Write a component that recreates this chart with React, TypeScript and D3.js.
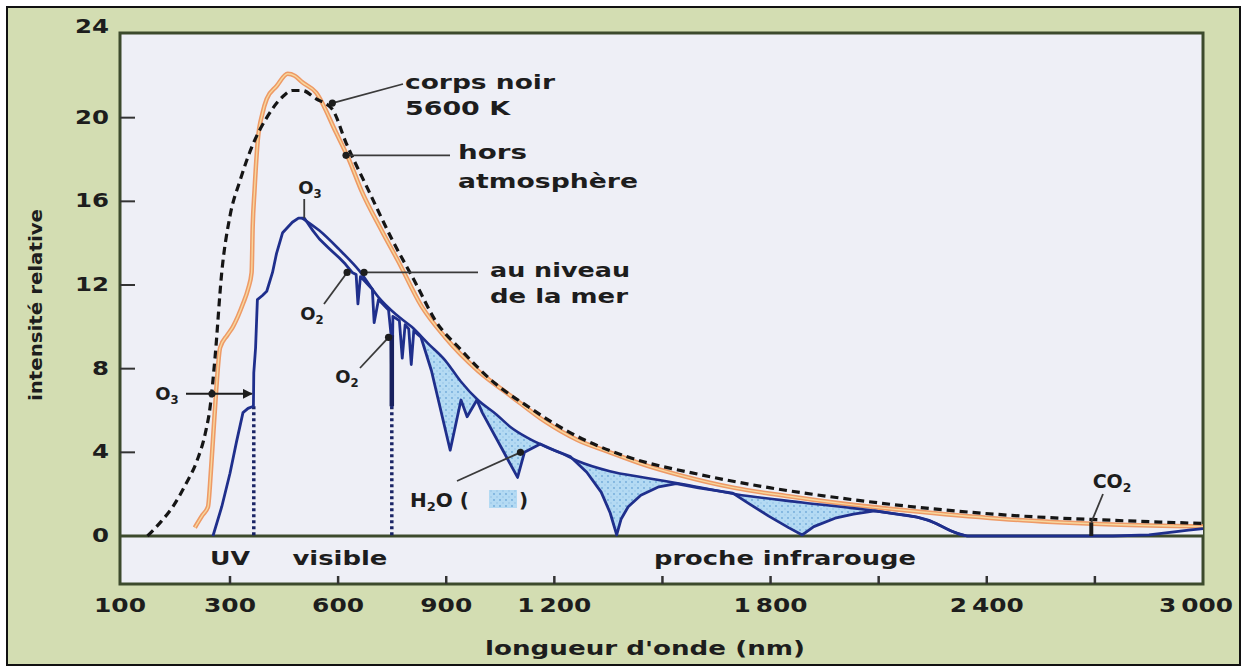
import React from "react";
import * as d3 from "d3";

// wavelength (nm) / relative intensity
const blackBody: [number, number][] = [
  [150, 0], [175, 0.7], [196, 1.4], [220, 2.5], [240, 3.6], [255, 4.9], [264, 6.2],
  [273, 8.6], [285, 12.6], [300, 15.3], [328, 17.0], [363, 18.7], [402, 20.0],
  [446, 21.0], [473, 21.3], [500, 21.3], [539, 20.9], [584, 20.4], [622, 18.8],
  [685, 16.5], [749, 14.2], [815, 12.1], [870, 10.3], [941, 8.9], [1035, 7.3],
  [1126, 6.2], [1227, 5.1], [1283, 4.6], [1400, 3.8], [1600, 2.95], [1800, 2.3],
  [2000, 1.8], [2250, 1.3], [2500, 0.95], [2750, 0.75], [3000, 0.6],
];

const outsideAtmosphere: [number, number][] = [
  [236, 0.4], [250, 1.0], [260, 1.4], [265, 3.0], [269, 4.6], [275, 7.0], [282, 9.0],
  [295, 9.6], [308, 10.0], [322, 10.5], [336, 11.1], [350, 11.8], [360, 12.6],
  [363, 14.8], [368, 16.5], [377, 18.9], [390, 20.2], [402, 20.9], [429, 21.5],
  [460, 22.1], [480, 22.0], [500, 21.7], [539, 21.2], [594, 19.3], [630, 18.0],
  [665, 16.5], [721, 14.6], [768, 13.1], [831, 11.0], [897, 9.5], [988, 7.9],
  [1079, 6.7], [1172, 5.5], [1263, 4.6], [1354, 4.0], [1450, 3.4], [1550, 2.9],
  [1700, 2.3], [1850, 1.9], [2000, 1.55], [2250, 1.1], [2500, 0.75], [2750, 0.55],
  [3000, 0.45],
];

const seaLevel: [number, number][] = [
  [269, 0], [285, 1.4], [300, 3.0], [318, 4.5], [336, 5.9], [350, 6.1], [365, 6.2],
  [366, 7.8], [371, 9.0], [376, 11.3], [390, 11.5], [402, 11.7], [418, 12.6],
  [429, 13.5], [446, 14.5], [473, 15.0], [490, 15.2], [506, 15.2], [530, 14.6],
  [548, 14.2], [575, 13.75], [603, 13.3], [620, 13.0], [639, 12.6], [650, 12.5],
  [655, 11.1], [662, 12.4], [695, 11.8], [700, 10.2], [712, 11.3], [740, 10.8],
  [747, 9.6], [749, 6.2], [752, 10.5], [770, 10.3], [778, 8.5], [786, 10.1],
  [796, 9.9], [803, 8.2], [810, 9.8], [830, 9.5], [859, 7.9], [911, 4.1], [941, 6.5],
  [958, 5.7], [985, 6.5], [1000, 5.9], [1098, 2.8], [1117, 4.0], [1161, 4.4],
  [1200, 4.1], [1244, 3.8], [1290, 3.05], [1330, 2.1], [1355, 1.1], [1373, 0.05],
  [1385, 0.8], [1405, 1.4], [1440, 1.95], [1490, 2.35], [1538, 2.5], [1600, 2.3],
  [1695, 2.05], [1740, 1.55], [1795, 0.95], [1850, 0.4], [1888, 0.05], [1920, 0.45],
  [1979, 0.85], [2030, 1.05], [2089, 1.2], [2150, 1.05], [2207, 0.9], [2240, 0.75],
  [2270, 0.5], [2300, 0.25], [2325, 0.08], [2345, 0], [2750, 0], [2850, 0.05],
  [2920, 0.2], [2960, 0.28], [3000, 0.35],
];

// sea level curve without the absorption bands (upper edge of the shaded dips)
const seaLevelEnvelope: [number, number][] = [
  [500, 15.2], [548, 14.6], [603, 13.7], [658, 12.7], [713, 11.4], [760, 10.6],
  [804, 10.0], [850, 9.2], [897, 8.4], [940, 7.4], [988, 6.5], [1040, 5.8],
  [1079, 5.2], [1125, 4.7], [1172, 4.3], [1220, 3.95], [1263, 3.6], [1354, 3.1],
  [1448, 2.8], [1566, 2.45], [1704, 2.0], [1888, 1.6], [2089, 1.2], [2150, 1.05],
  [2207, 0.9], [2260, 0.6], [2300, 0.25], [2345, 0],
];

const xTicks = [300, 600, 900, 1200, 1500, 1800, 2100, 2400, 2700];
const xTickLabels = [100, 300, 600, 900, 1200, 1800, 2400, 3000];
const yTicks = [4, 8, 12, 16, 20];
const yTickLabels = [0, 4, 8, 12, 16, 20, 24];
const bands = [
  { label: "UV", nm: 300, w: 40 },
  { label: "visible", nm: 605, w: 95 },
  { label: "proche infrarouge", nm: 1840, w: 262 },
];
const cutoffs = [366, 749]; // dotted drops (O3 / O2)
const o2Drop = [6.2, 9.6];
const co2Band = 2690;

const W = 1242;
const H = 668;
const FONT = "'DejaVu Sans', 'Open Sans', sans-serif";
const INK = "#1d1d1d";
const BLUE = "#1f2f8c";

const x = d3.scaleLinear().domain([100, 300, 3000]).range([120, 230, 1203]);
const y = d3.scaleLinear().domain([0, 24]).range([536, 34]);

const fmt = (n: number) =>
  n >= 1000 ? String(n).replace(/(\d)(\d{3})$/, "$1\u2009$2") : String(n);

const label = { fontFamily: FONT, fontWeight: 700, fill: INK } as const;

// wide, squarish bold text like the original lettering
const T: React.FC<{
  x: number;
  y: number;
  w: number;
  size?: number;
  anchor?: "start" | "middle" | "end";
  children: React.ReactNode;
  transform?: string;
}> = ({ x, y, w, size = 20, anchor = "start", children, transform }) => (
  <text
    x={x}
    y={y}
    textAnchor={anchor}
    fontSize={size}
    textLength={w}
    lengthAdjust="spacingAndGlyphs"
    transform={transform}
    {...label}
  >
    {children}
  </text>
);

const Sub: React.FC<{ base: string; sub: string }> = ({ base, sub }) => (
  <>
    {base}
    <tspan fontSize="0.65em" dy="4">{sub}</tspan>
  </>
);

export default function App() {
  const smooth = d3
    .line<[number, number]>()
    .x((d) => x(d[0]))
    .y((d) => y(d[1]))
    .curve(d3.curveMonotoneX);

  const sharp = d3
    .line<[number, number]>()
    .x((d) => x(d[0]))
    .y((d) => y(d[1]));

  const areaSmooth = d3
    .area<[number, number]>()
    .x((d) => x(d[0]))
    .y0(y(0))
    .y1((d) => y(d[1]))
    .curve(d3.curveMonotoneX);

  const areaSharp = d3
    .area<[number, number]>()
    .x((d) => x(d[0]))
    .y0(y(0))
    .y1((d) => y(d[1]));

  const plotL = x(100);
  const plotR = x(3000);
  const plotT = 33;
  const plotB = 584;
  const bg = "#eeeff6";

  const env = seaLevelEnvelope.filter((d) => d[0] >= 804);

  const dot = (cx: number, cy: number, key: string) => (
    <circle key={key} cx={cx} cy={cy} r={3.6} fill={INK} />
  );

  const p = (nm: number, v: number) => [x(nm), y(v)];
  const [cnX, cnY] = p(584, 20.7);
  const [haX, haY] = p(622, 18.2);
  const [nmX, nmY] = p(672, 12.6);
  const [o3X, o3Y] = p(506, 15.2);
  const [o2aX, o2aY] = p(625, 12.6);
  const [o2bX, o2bY] = p(740, 9.5);
  const [h2oX, h2oY] = p(1106, 4.0);
  const o3ArrowY = y(6.8);

  return (
    <svg
      width={W}
      height={H}
      style={{ position: "absolute", left: 0, top: 0, background: "#fff" }}
    >
      <defs>
        <pattern id="water" width="6" height="6" patternUnits="userSpaceOnUse">
          <rect width="6" height="6" fill="#b4daf3" />
          <circle cx="2" cy="2" r="0.9" fill="#6fa9d8" />
          <circle cx="5" cy="5" r="0.7" fill="#8cbde4" />
        </pattern>
        <marker id="arrow" viewBox="0 0 10 10" refX="9" refY="5" markerWidth="5" markerHeight="5" orient="auto">
          <path d="M0,0 L10,5 L0,10 z" fill={INK} />
        </marker>
      </defs>

      {/* frame */}
      <rect x={7} y={7} width={1233} height={658} fill="#d3ddb2" stroke="#111" strokeWidth={2} />
      <rect x={plotL} y={plotT} width={plotR - plotL} height={plotB - plotT} fill={bg} stroke="#3c4a2c" strokeWidth={3} />

      {/* water absorption fill: under envelope, masked by area under actual curve */}
      <path d={areaSmooth(env) || ""} fill="url(#water)" />
      <path d={areaSharp(seaLevel) || ""} fill={bg} />

      {/* baseline */}
      <line x1={plotL} x2={plotR} y1={y(0)} y2={y(0)} stroke="#3c4a2c" strokeWidth={3} />

      {/* y ticks */}
      {yTicks.map((t) => (
        <line key={"yt" + t} x1={plotL} x2={plotL + 15} y1={y(t)} y2={y(t)} stroke="#333" strokeWidth={2} />
      ))}
      {yTickLabels.map((t) => (
        <T key={"yl" + t} x={109} y={(t === 24 ? 25 : y(t) - 2) + 8} w={t < 10 ? 17 : 34} anchor="end">
          {t}
        </T>
      ))}

      {/* x ticks */}
      {xTicks.map((t) => (
        <line key={"xt" + t} x1={x(t)} x2={x(t)} y1={plotB} y2={plotB - 8} stroke="#333" strokeWidth={2.5} />
      ))}
      {xTickLabels.map((t) => (
        <T key={"xl" + t} x={t === 3000 ? x(t) - 7 : x(t)} y={612} w={t >= 1000 ? 74 : 52} anchor="middle">
          {fmt(t)}
        </T>
      ))}
      {bands.map((b) => (
        <T key={b.label} x={x(b.nm)} y={565} w={b.w} anchor="middle">
          {b.label}
        </T>
      ))}

      {/* axis titles */}
      <T x={645} y={655} w={320} anchor="middle">
        longueur d'onde (nm)
      </T>
      <T x={0} y={0} w={192} size={17} anchor="middle" transform="translate(42,305) rotate(-90)">
        intensité relative
      </T>

      {/* dotted drops */}
      {cutoffs.map((c) => (
        <line key={"c" + c} x1={x(c)} x2={x(c)} y1={y(6.2)} y2={y(0)} stroke="#1a2466" strokeWidth={3.5} strokeDasharray="3 3" />
      ))}

      {/* curves */}
      <path d={smooth(outsideAtmosphere) || ""} fill="none" stroke="#ee9a66" strokeWidth={4.5} />
      <path d={smooth(outsideAtmosphere) || ""} fill="none" stroke="#f7d79e" strokeWidth={1.4} />
      <path d={smooth(seaLevelEnvelope) || ""} fill="none" stroke={BLUE} strokeWidth={2.6} />
      <path d={sharp(seaLevel) || ""} fill="none" stroke={BLUE} strokeWidth={2.8} strokeLinejoin="round" />
      <line x1={x(cutoffs[1])} x2={x(cutoffs[1])} y1={y(o2Drop[0])} y2={y(o2Drop[1])} stroke="#17205e" strokeWidth={4.5} />
      <path d={smooth(blackBody) || ""} fill="none" stroke="#151515" strokeWidth={3.2} strokeDasharray="8 5" />

      {/* CO2 band */}
      <line x1={x(co2Band)} x2={x(co2Band)} y1={y(0)} y2={y(0.65)} stroke={INK} strokeWidth={4} />

      {/* annotations */}
      <g stroke="#3a3a3a" strokeWidth={1.8} fill="none">
        <line x1={cnX} y1={cnY} x2={403} y2={84} />
        <line x1={haX} y1={haY} x2={450} y2={haY} />
        <line x1={nmX} y1={nmY} x2={478} y2={nmY} />
        <line x1={o3X} y1={o3Y} x2={o3X} y2={199} />
        <line x1={o2aX} y1={o2aY} x2={324} y2={304} />
        <line x1={o2bX} y1={o2bY} x2={360} y2={368} />
        <line x1={h2oX} y1={h2oY} x2={457} y2={481} />
        <line x1={x(co2Band)} y1={y(0.65)} x2={1103} y2={494} />
        <line x1={186} y1={o3ArrowY} x2={x(366) - 2} y2={o3ArrowY} markerEnd="url(#arrow)" strokeWidth={2} stroke={INK} />
      </g>
      {dot(cnX, cnY, "d1")}
      {dot(haX, haY, "d2")}
      {dot(nmX, nmY, "d3")}
      {dot(o2aX, o2aY, "d4")}
      {dot(o2bX, o2bY, "d5")}
      {dot(h2oX, h2oY, "d6")}
      {dot(212, o3ArrowY, "d7")}

      <T x={405} y={89} w={150}>corps noir</T>
      <T x={405} y={115} w={105}>5600 K</T>
      <T x={458} y={159} w={69}>hors</T>
      <T x={458} y={188} w={180}>atmosphère</T>
      <T x={490} y={277} w={140}>au niveau</T>
      <T x={490} y={303} w={138}>de la mer</T>

      <text x={310} y={194} textAnchor="middle" fontSize={18} {...label}><Sub base="O" sub="3" /></text>
      <text x={312} y={320} textAnchor="middle" fontSize={18} {...label}><Sub base="O" sub="2" /></text>
      <text x={347} y={383} textAnchor="middle" fontSize={18} {...label}><Sub base="O" sub="2" /></text>
      <text x={167} y={400} textAnchor="middle" fontSize={18} {...label}><Sub base="O" sub="3" /></text>
      <text x={1112} y={488} textAnchor="middle" fontSize={19} {...label}><Sub base="CO" sub="2" /></text>

      <text x={410} y={507} fontSize={20} {...label}>
        <Sub base="H" sub="2" />
        <tspan dy="-4">O (</tspan>
      </text>
      <rect x={489} y={490} width={28} height={18} fill="url(#water)" />
      <text x={519} y={507} fontSize={20} {...label}>)</text>
    </svg>
  );
}
